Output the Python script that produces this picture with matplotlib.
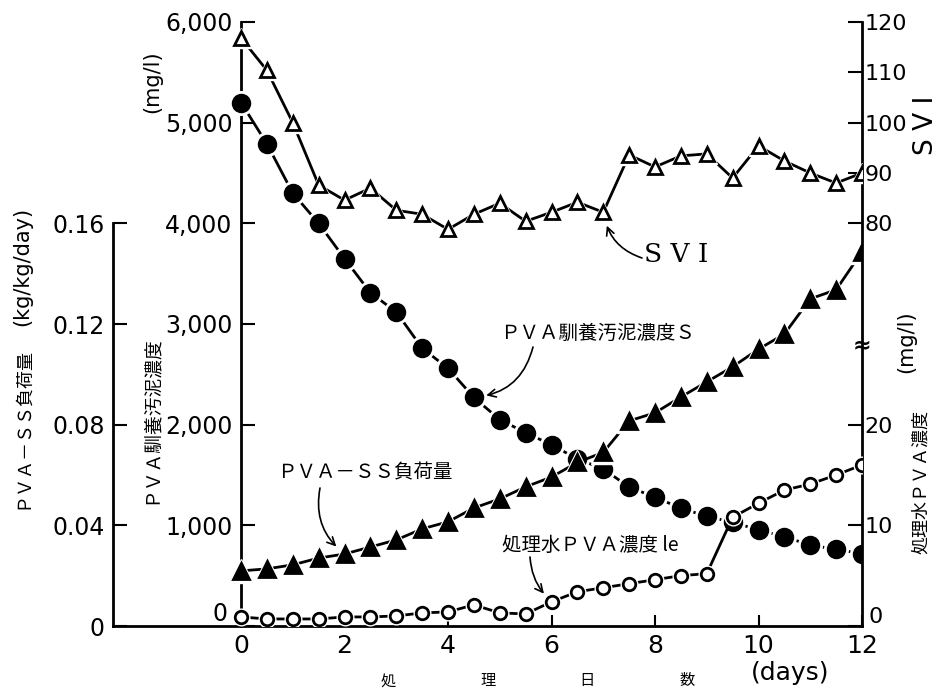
import matplotlib
matplotlib.use("Agg")
import matplotlib.pyplot as plt
from matplotlib.ticker import FixedLocator, FuncFormatter

# ---- data -------------------------------------------------------------
days = [0, 0.5, 1, 1.5, 2, 2.5, 3, 3.5, 4, 4.5, 5, 5.5, 6,
        6.5, 7, 7.5, 8, 8.5, 9, 9.5, 10, 10.5, 11, 11.5, 12]

# acclimated PVA sludge concentration S (mg/l)
sludge = [5200, 4790, 4300, 4000, 3650, 3310, 3120, 2760, 2560, 2270, 2050, 1920, 1800,
          1660, 1560, 1380, 1280, 1170, 1090, 1030, 955, 885, 805, 760, 720]

# SVI
svi = [116.8, 110.4, 100.0, 87.6, 84.6, 87.0, 82.6, 81.8, 78.8, 81.8, 84.0, 80.4, 82.2,
       84.2, 82.2, 93.6, 91.2, 93.4, 93.8, 89.0, 95.4, 92.4, 90.0, 88.0, 90.0]

# PVA-SS loading (kg/kg/day)
load = [0.0219, 0.0227, 0.0243, 0.0270, 0.0286, 0.0314, 0.0342, 0.0386, 0.0414, 0.0469,
        0.0505, 0.0553, 0.0592, 0.0650, 0.0690, 0.0815, 0.0847, 0.0910, 0.0970, 0.1030,
        0.1100, 0.1160, 0.1300, 0.1336, 0.1487]

# PVA concentration in treated water le (mg/l)
effluent = [0.9, 0.7, 0.7, 0.7, 0.9, 0.9, 1.0, 1.3, 1.4, 2.1, 1.3, 1.2, 2.4,
            3.4, 3.8, 4.2, 4.6, 5.0, 5.2, 10.8, 12.2, 13.5, 14.1, 15.0, 16.0]

x_ticks = [0, 2, 4, 6, 8, 10, 12]
sludge_ticks = [0, 1000, 2000, 3000, 4000, 5000, 6000]
load_ticks = [0, 0.04, 0.08, 0.12, 0.16]
svi_ticks = [80, 90, 100, 110, 120]
eff_ticks = [0, 10, 20]

# ---- figure -----------------------------------------------------------
W, H = 952, 695
NUM = ["DejaVu Sans"]
JP = ["Noto Sans CJK JP", "DejaVu Sans"]
plt.rcParams["font.family"] = NUM

fig = plt.figure(figsize=(W / 100, H / 100), dpi=100)
fig.patch.set_facecolor("white")
L, R, B, T = 113, 862, 69, 673
ax = fig.add_axes([L / W, B / H, (R - L) / W, (T - B) / H])
ax.set_xlim(-2.474, 12)
ax.set_ylim(0, 6000)

ax_load = ax.twinx()
ax_svi = ax.twinx()
ax_eff = ax.twinx()
ax_load.set_ylim(0, 0.24)
ax_svi.set_ylim(0, 120)
ax_eff.set_ylim(0, 60)

SPW = 2.0
for a in (ax, ax_load, ax_svi, ax_eff):
    for s in a.spines.values():
        s.set_visible(False)
        s.set_linewidth(SPW)

# bottom axis + inner left axis (sludge)
ax.spines["bottom"].set_visible(True)
ax.spines["left"].set_visible(True)
ax.spines["left"].set_position(("data", 0))
ax.spines["left"].set_bounds(0, 6000)
ax.xaxis.set_major_locator(FixedLocator(x_ticks))
ax.tick_params(axis="x", direction="in", length=8, width=1.5, labelsize=18, pad=6)
ax.yaxis.set_major_locator(FixedLocator(sludge_ticks))
ax.yaxis.set_major_formatter(FuncFormatter(lambda v, p: "" if v == 0 else f"{int(v):,}"))
ax.tick_params(axis="y", direction="in", length=10, width=1.5, labelsize=17, pad=6)

# outer left axis (loading)
ax_load.yaxis.tick_left()
ax_load.spines["left"].set_visible(True)
ax_load.spines["left"].set_bounds(0, 0.16)
ax_load.yaxis.set_major_locator(FixedLocator(load_ticks))
ax_load.yaxis.set_major_formatter(FuncFormatter(lambda v, p: "0" if v == 0 else f"{v:.2f}"))
ax_load.tick_params(axis="y", direction="in", length=10, width=1.5, labelsize=17, pad=6)

# right axis (SVI upper part)
ax_svi.spines["right"].set_visible(True)
ax_svi.spines["right"].set_bounds(0, 120)
ax_svi.yaxis.set_major_locator(FixedLocator(svi_ticks))
ax_svi.tick_params(axis="y", direction="in", length=10, width=1.5, labelsize=16, pad=2)

# right axis (treated water PVA, lower part)
ax_eff.yaxis.set_major_locator(FixedLocator(eff_ticks))
ax_eff.yaxis.set_major_formatter(FuncFormatter(lambda v, p: "" if v == 0 else f"{int(v)}"))
ax_eff.tick_params(axis="y", direction="in", length=10, width=1.5, labelsize=16, pad=2)


def series(a, y, marker, ms, filled, halo=5):
    a.plot(days, y, "-", color="black", lw=2.0, zorder=2, solid_capstyle="butt")
    a.plot(days, y, ls="none", marker=marker, ms=ms + halo, mfc="white", mec="white",
           zorder=3)
    a.plot(days, y, ls="none", marker=marker, ms=ms, mfc="black" if filled else "white",
           mec="black", mew=2.0, zorder=4)


series(ax, sludge, "o", 12, True)
series(ax_load, load, "^", 12, True)
series(ax_svi, svi, "^", 10, False)
series(ax_eff, effluent, "o", 9, False, halo=3)


def fp(x, y):
    return x / W, 1 - y / H


# zero labels near the origins
ax.text(-0.41, 115, "0", ha="center", va="center", fontsize=17)
ax_eff.text(12.12, 0.9, "0", ha="left", va="center", fontsize=16)

# break mark on the right axis
fig.text(*fp(862, 345), "≈", ha="center", va="center", fontsize=16, fontweight="bold")

# axis titles
fig.text(*fp(152, 82), "(mg/l)", rotation=90, ha="center", va="center", fontsize=15)
fig.text(*fp(150, 420), "ＰＶＡ馴養汚泥濃度", rotation=90, ha="center", va="center",
         fontsize=13.5, family=JP)
fig.text(*fp(22, 266), "(kg/kg/day)", rotation=90, ha="center", va="center", fontsize=15)
fig.text(*fp(22, 428), "ＰＶＡ－ＳＳ負荷量", rotation=90, ha="center", va="center",
         fontsize=13, family=JP)
fig.text(*fp(926, 125), "S V I", rotation=90, ha="center", va="center", fontsize=19)
fig.text(*fp(906, 342), "(mg/l)", rotation=90, ha="center", va="center", fontsize=15)
fig.text(*fp(921, 482), "処理水ＰＶＡ濃度", rotation=90, ha="center", va="center",
         fontsize=13, family=JP)

for ch, xpx in zip("処理日数", [388, 488, 587, 687]):
    fig.text(*fp(xpx, 681), ch, ha="center", va="center", fontsize=11, family=JP)
fig.text(*fp(790, 673), "(days)", ha="center", va="center", fontsize=18)

# curve labels with arrows
arrow = dict(arrowstyle="->", lw=1.2, color="black", shrinkA=0, mutation_scale=14)

fig.text(*fp(676, 254), "S V I", ha="center", va="center", fontsize=19,
         family=["DejaVu Serif"])
ax_svi.annotate("", xy=(days[14], svi[14]), xytext=(642, H - 258),
                textcoords="figure pixels",
                arrowprops=dict(arrow, shrinkB=10, connectionstyle="arc3,rad=-0.3"))

fig.text(*fp(500, 333), "ＰＶＡ馴養汚泥濃度Ｓ", ha="left", va="center", fontsize=14,
         family=JP)
ax.annotate("", xy=(days[9], sludge[9]), xytext=(533, H - 347),
            textcoords="figure pixels",
            arrowprops=dict(arrow, shrinkB=9, connectionstyle="arc3,rad=-0.35"))

fig.text(*fp(277, 473), "ＰＶＡ－ＳＳ負荷量", ha="left", va="center", fontsize=14,
         family=JP)
ax_load.annotate("", xy=(days[4], load[4]), xytext=(320, H - 488),
                 textcoords="figure pixels",
                 arrowprops=dict(arrow, shrinkB=8, connectionstyle="arc3,rad=0.3"))

fig.text(*fp(502, 545), "処理水ＰＶＡ濃度 le", ha="left", va="center", fontsize=14,
         family=JP)
ax_eff.annotate("", xy=(days[12], effluent[12]), xytext=(530, H - 557),
                textcoords="figure pixels",
                arrowprops=dict(arrow, shrinkB=8, connectionstyle="arc3,rad=0.2"))

fig.savefig("out.png", dpi=100, facecolor="white")
